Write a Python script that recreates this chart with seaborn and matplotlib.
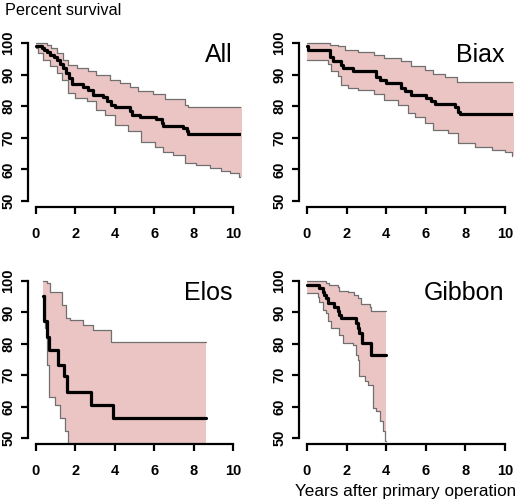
import numpy as np
import pandas as pd
import matplotlib
matplotlib.use("Agg")
import matplotlib.pyplot as plt
import seaborn as sns

# ---------------- data ----------------
panels = ["All", "Biax", "Elos", "Gibbon"]

all_t   = [0, 0.3, 0.4, 0.55, 0.7, 0.9, 1.08, 1.2, 1.38, 1.55, 1.7, 1.82, 2.4, 2.65, 2.9, 3.4, 3.6, 3.83, 4.0, 4.76, 4.85, 5.27, 6.1, 6.37, 6.45, 7.47, 7.64, 7.72, 10.47]
all_s   = [99.0, 98.5, 97.8, 97.0, 96.2, 95.5, 94.5, 93.3, 92.2, 90.5, 89.0, 87.1, 86.0, 85.0, 83.6, 82.9, 81.8, 80.4, 79.7, 78.6, 77.3, 76.7, 75.9, 74.8, 73.8, 73.0, 72.0, 71.3, 71.3]
all_ut  = [0, 0.54, 0.79, 1.05, 1.39, 1.64, 2.06, 2.65, 3.07, 3.75, 4.26, 4.76, 5.19, 5.95, 6.54, 7.55, 7.72, 10.47]
all_u   = [100, 99.5, 98.4, 96.8, 94.7, 93.1, 92.0, 91.3, 90.0, 88.4, 87.3, 86.0, 84.7, 84.0, 82.2, 80.4, 79.9, 79.9]
all_lt  = [0, 0.12, 0.37, 0.71, 1.05, 1.3, 1.64, 1.98, 2.57, 3.07, 3.5, 4.0, 4.68, 5.35, 6.03, 6.45, 6.96, 7.55, 8.14, 8.82, 9.4, 9.83, 10.3, 10.47]
all_l   = [98.4, 96.8, 94.7, 92.6, 90.5, 88.4, 84.1, 82.6, 81.5, 78.9, 77.3, 74.1, 72.0, 68.8, 67.2, 65.6, 64.6, 61.9, 61.4, 60.4, 59.5, 59.0, 57.6, 57.2]

biax_t  = [0, 0.05, 1.18, 1.3, 1.72, 1.8, 2.31, 3.5, 3.67, 4.0, 4.76, 4.93, 5.27, 6.03, 6.28, 6.45, 7.47, 7.64, 7.72, 10.47]
biax_s  = [99.0, 97.9, 95.6, 94.2, 93.1, 92.1, 91.0, 89.2, 88.4, 87.3, 85.7, 84.7, 83.6, 82.6, 81.5, 80.8, 79.7, 78.3, 77.6, 77.6]
biax_ut = [0, 1.18, 1.55, 1.9, 2.57, 3.4, 3.9, 4.76, 5.27, 5.95, 6.37, 6.96, 7.55, 10.47]
biax_u  = [100, 99.5, 98.9, 97.7, 97.0, 96.3, 95.2, 94.2, 92.6, 91.5, 90.3, 89.4, 87.6, 87.6]
biax_lt = [0, 1.05, 1.22, 1.55, 1.72, 2.06, 2.57, 3.4, 3.9, 4.59, 5.1, 5.44, 5.95, 6.37, 7.13, 7.64, 8.48, 9.32, 10.0, 10.35, 10.47]
biax_l  = [94.7, 93.5, 91.0, 89.6, 86.8, 85.7, 85.0, 83.9, 82.0, 80.4, 77.8, 76.7, 74.8, 72.5, 71.5, 68.3, 67.2, 66.2, 65.6, 64.3, 64.3]

elos_t  = [0.37, 0.41, 0.54, 0.68, 1.13, 1.42, 1.6, 2.77, 3.92, 8.65]
elos_s  = [95.3, 87.1, 82.3, 78.1, 73.3, 69.6, 64.8, 60.4, 56.4, 56.4]
elos_ut = [0.37, 0.54, 0.71, 1.3, 1.55, 1.72, 2.4, 2.9, 3.83, 8.65]
elos_u  = [100, 99.3, 96.6, 92.4, 88.1, 87.6, 86.0, 84.4, 80.7, 80.7]
elos_lt = [0.37, 0.46, 0.54, 0.68, 0.96, 1.22, 1.47, 1.64, 2.77, 3.92, 8.65]
elos_l  = [95.5, 85.0, 73.3, 63.2, 60.6, 56.4, 52.1, 48.0, 42.0, 36.0, 36.0]

gib_t   = [0, 0.63, 0.8, 0.88, 0.98, 1.08, 1.39, 1.55, 1.64, 1.72, 2.48, 2.57, 2.65, 2.77, 3.24, 4.0]
gib_s   = [98.7, 97.7, 96.6, 95.6, 94.5, 92.9, 91.8, 90.3, 89.2, 88.3, 86.5, 85.0, 83.4, 80.2, 76.5, 76.5]
gib_ut  = [0, 0.96, 1.13, 1.55, 1.64, 2.06, 2.4, 2.57, 2.74, 3.16, 3.24, 4.0]
gib_u   = [100, 99.5, 98.7, 98.2, 96.8, 96.6, 95.6, 94.5, 92.6, 91.8, 90.5, 90.5]
gib_lt  = [0, 0.54, 0.63, 0.79, 0.96, 1.08, 1.22, 1.64, 1.81, 2.31, 2.48, 2.57, 2.65, 2.91, 3.07, 3.33, 3.5, 3.67, 3.83, 3.95, 4.0]
gib_l   = [96.1, 95.0, 93.4, 90.8, 89.7, 87.1, 85.0, 82.8, 80.2, 79.7, 76.5, 74.9, 69.6, 68.0, 67.0, 59.5, 58.5, 55.3, 52.1, 48.9, 48.9]

x_ticks = [0, 2, 4, 6, 8, 10]
y_ticks = [50, 60, 70, 80, 90, 100]
y_label = "Percent survival"
x_label = "Years after primary operation"

series = {
    "All": (all_t, all_s, all_ut, all_u, all_lt, all_l),
    "Biax": (biax_t, biax_s, biax_ut, biax_u, biax_lt, biax_l),
    "Elos": (elos_t, elos_s, elos_ut, elos_u, elos_lt, elos_l),
    "Gibbon": (gib_t, gib_s, gib_ut, gib_u, gib_lt, gib_l),
}

# ---------------- style ----------------
sns.set_style("white")
plt.rcParams["font.family"] = ["Liberation Sans", "DejaVu Sans"]

W, H = 517, 501
fig = plt.figure(figsize=(W / 100, H / 100), dpi=100)

positions = {
    "All":    [28 / W, 1 - 207.3 / H, 213 / W, 170.6 / H],
    "Biax":   [299 / W, 1 - 207.3 / H, 214 / W, 170.6 / H],
    "Elos":   [28 / W, 1 - 444.3 / H, 213 / W, 169.6 / H],
    "Gibbon": [299 / W, 1 - 444.3 / H, 214 / W, 169.6 / H],
}

FILL = "#ebc4c4"
EDGE = "#707070"
tick_font = dict(family=["Liberation Sans Narrow", "Liberation Sans", "DejaVu Sans"],
                 weight="bold", size=10.5, color="black")


def step_eval(t, v, grid):
    t = np.asarray(t); v = np.asarray(v)
    idx = np.searchsorted(t, grid, side="right") - 1
    idx = np.clip(idx, 0, len(v) - 1)
    return v[idx]


for name in panels:
    t, s, ut, u, lt, l = series[name]
    ax = fig.add_axes(positions[name])
    grid = np.unique(np.concatenate([ut, lt]))
    up = step_eval(ut, u, grid)
    lo = step_eval(lt, l, grid)
    ax.fill_between(grid, lo, up, step="post", color=FILL, linewidth=0, zorder=1)
    ax.step(ut, u, where="post", color=EDGE, lw=0.9, zorder=2)
    ax.step(lt, l, where="post", color=EDGE, lw=0.9, zorder=2)
    df = pd.DataFrame({"t": t, "s": s})
    sns.lineplot(data=df, x="t", y="s", ax=ax, color="black", lw=2.3,
                 drawstyle="steps-post", estimator=None, sort=False, zorder=3)

    ax.set_xlim(-0.4, 10.4)
    ax.set_ylim(48, 102)
    ax.set_xticks(x_ticks)
    ax.set_yticks(y_ticks)
    ax.set_xticklabels([str(v) for v in x_ticks], **tick_font)
    ax.set_yticklabels([str(v) for v in y_ticks], rotation=90, va="center", **tick_font)
    ax.set_xlabel("")
    ax.set_ylabel("")
    for sp in ["top", "right"]:
        ax.spines[sp].set_visible(False)
    ax.spines["left"].set_bounds(50, 100)
    ax.spines["bottom"].set_bounds(0, 10)
    for sp in ["left", "bottom"]:
        ax.spines[sp].set_color("black")
        ax.spines[sp].set_linewidth(1.6)
    ax.tick_params(axis="both", direction="out", length=5, width=1.6, color="black",
                   labelcolor="black", bottom=True, left=True)
    ax.tick_params(axis="x", pad=9)
    ax.tick_params(axis="y", pad=4)
    ax.patch.set_alpha(0)
    ax.text(9.97, 94.0, name, ha="right", va="baseline", fontsize=18,
            family=["Liberation Sans", "DejaVu Sans"], color="black")

fig.text(5 / W, 1 - 15 / H, y_label, ha="left", va="baseline", fontsize=11.7,
         color="black")
fig.text(516 / W, 1 - 496 / H, x_label, ha="right", va="baseline", fontsize=12.3,
         color="black")

fig.savefig("out.png", dpi=100)
